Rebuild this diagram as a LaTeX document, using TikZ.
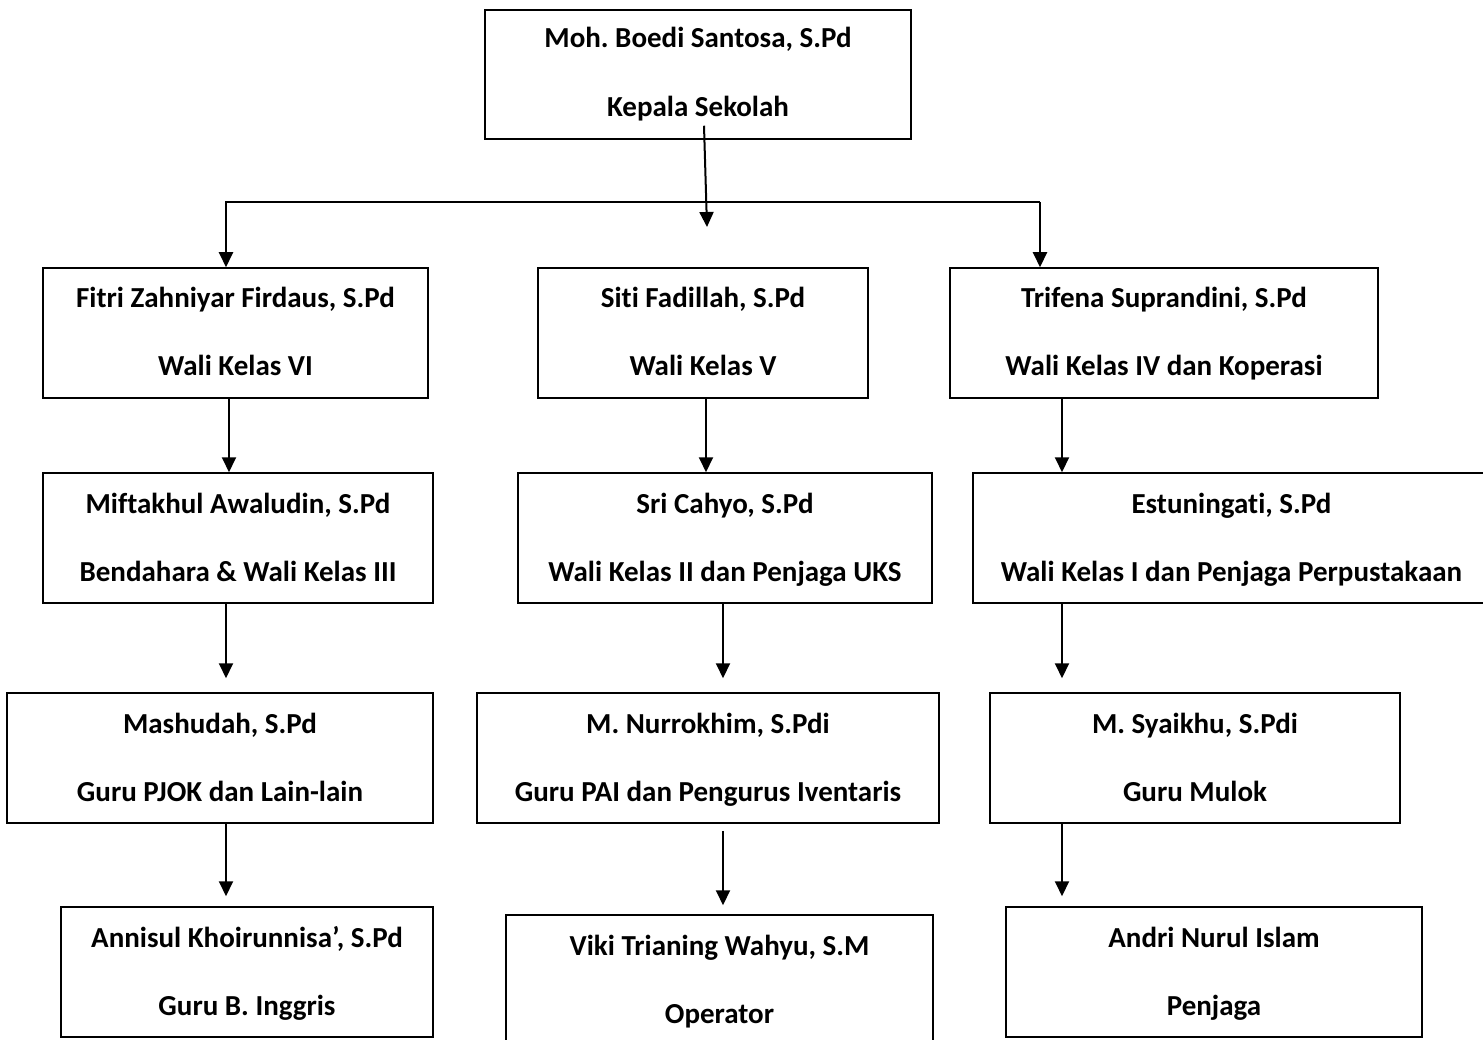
\documentclass[tikz,border=0pt]{standalone}
\usepackage{fontspec}
\setmainfont{Carlito}[Ligatures=NoCommon]
\frenchspacing
\usetikzlibrary{arrows.meta}
\newcommand\orgbox[6][25pt]{%
  \node[box,minimum width=#4] (#2) at (#3) {};
  \node[txt] at ([yshift=#1]#2.center) {#5};
  \node[txt] at ([yshift=-43pt]#2.center) {#6};
}
\begin{document}
\begin{tikzpicture}[x=1pt,y=-1pt,
  box/.style={draw=black,line width=1.5pt,rectangle,inner sep=0pt,minimum height=130pt},
  txt/.style={anchor=base,inner sep=0pt,font=\fontsize{29}{35}\selectfont\bfseries},
  arr/.style={-{Triangle[length=15pt,width=14pt]},line width=2pt,line join=miter},
]
\useasboundingbox (0,0) rectangle (1483,1040);
\fill[white] (0,0) rectangle (1483,1040);

\node[box,minimum width=426pt,minimum height=129pt] (top) at (698,74.5) {};
\node[txt] at ([yshift=26.5pt]top.center) {Moh. Boedi Santosa, S.Pd};
\node[txt] at ([yshift=-42.5pt]top.center) {Kepala Sekolah};

\orgbox{a1}{235.5,333}{385pt}{Fitri Zahniyar Firdaus, S.Pd}{Wali Kelas VI}
\orgbox{b1}{703,333}{330pt}{Siti Fadillah, S.Pd}{Wali Kelas V}
\orgbox{c1}{1164,333}{428pt}{Trifena Suprandini, S.Pd}{Wali Kelas IV dan Koperasi}

\orgbox{a2}{238,538}{390pt}{Miftakhul Awaludin, S.Pd}{Bendahara \& Wali Kelas III}
\orgbox{b2}{725,538}{414pt}{Sri Cahyo, S.Pd}{Wali Kelas II dan Penjaga UKS}
\orgbox{c2}{1231.5,538}{517pt}{Estuningati, S.Pd}{Wali Kelas I dan Penjaga Perpustakaan}

\orgbox{a3}{220,758}{426pt}{Mashudah, S.Pd}{Guru PJOK dan Lain-lain}
\orgbox{b3}{708,758}{462pt}{M. Nurrokhim, S.Pdi}{Guru PAI dan Pengurus Iventaris}
\orgbox{c3}{1195,758}{410pt}{M. Syaikhu, S.Pdi}{Guru Mulok}

\orgbox{a4}{247,972}{372pt}{Annisul Khoirunnisa’, S.Pd}{Guru B. Inggris}
\orgbox{b4}{719.5,980}{427pt}{Viki Trianing Wahyu, S.M}{Operator}
\orgbox{c4}{1214,972}{416pt}{Andri Nurul Islam}{Penjaga}

\coordinate (hub) at (707,227);
\coordinate (jl) at (226,202);
\coordinate (jr) at (1040,202);

\draw[arr] ([xshift=6pt,yshift=14pt]top.south) -- (hub);
\draw[arr] (jr) -- (jl) -- ([xshift=-9.5pt]a1.north);
\draw[arr] (jr) -- ([xshift=-124pt]c1.north);

\draw[arr] ([xshift=-6.5pt]a1.south) -- ([xshift=-9pt]a2.north);
\draw[arr] ([xshift=-12pt]a2.south) -- ([xshift=6pt,yshift=14pt]a3.north);
\draw[arr] ([xshift=6pt]a3.south) -- ([xshift=-21pt,yshift=10pt]a4.north);

\draw[arr] ([xshift=3pt]b1.south) -- ([xshift=-19pt]b2.north);
\draw[arr] ([xshift=-2pt]b2.south) -- ([xshift=15pt,yshift=14pt]b3.north);
\draw[arr] ([xshift=15pt,yshift=-7pt]b3.south) -- ([xshift=3.5pt,yshift=9pt]b4.north);

\draw[arr] ([xshift=-102pt]c1.south) -- ([xshift=-169.5pt]c2.north);
\draw[arr] ([xshift=-169.5pt]c2.south) -- ([xshift=-133pt,yshift=14pt]c3.north);
\draw[arr] ([xshift=-133pt]c3.south) -- ([xshift=-152pt,yshift=10pt]c4.north);
\end{tikzpicture}
\end{document}
